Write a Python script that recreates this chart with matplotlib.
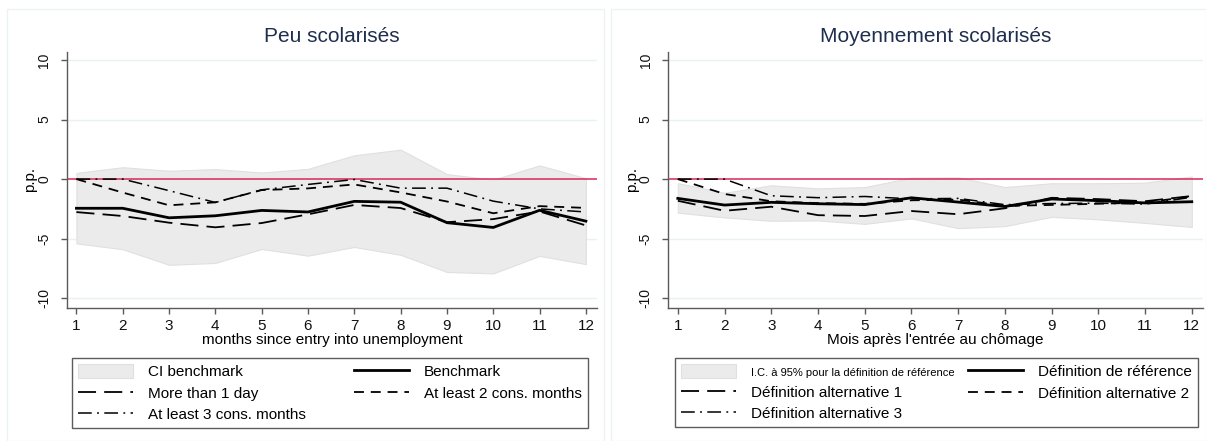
import matplotlib
matplotlib.use("Agg")
import matplotlib.pyplot as plt
from matplotlib.patches import Rectangle

plt.rcParams['font.family'] = ['Liberation Sans', 'DejaVu Sans']

months = list(range(1, 13))

# low education
peu_bench = [-2.45, -2.45, -3.25, -3.08, -2.63, -2.76, -1.87, -1.94, -3.66, -4.06, -2.62, -3.53]
peu_ci_hi = [0.52, 1.0, 0.7, 0.84, 0.55, 0.86, 2.0, 2.47, 0.42, -0.05, 1.15, 0.07]
peu_ci_lo = [-5.4, -5.89, -7.2, -7.04, -5.87, -6.43, -5.7, -6.36, -7.8, -7.92, -6.45, -7.14]
peu_more1 = [-2.77, -3.1, -3.66, -4.05, -3.69, -2.96, -2.17, -2.43, -3.62, -3.36, -2.72, -3.89]
peu_cons2 = [0.0, -1.13, -2.2, -1.95, -0.92, -0.78, -0.45, -1.12, -1.88, -2.87, -2.27, -2.42]
peu_cons3 = [0.0, 0.0, -0.97, -1.96, -0.9, -0.45, -0.03, -0.76, -0.76, -1.85, -2.5, -2.76]

# medium education
moy_bench = [-1.62, -2.18, -1.95, -2.07, -2.14, -1.57, -1.93, -2.3, -1.67, -1.81, -2.0, -1.9]
moy_ci_hi = [-0.34, -1.15, -0.52, -0.78, -0.67, 0.12, 0.15, -0.67, -0.35, -0.35, -0.3, 0.22]
moy_ci_lo = [-2.82, -3.22, -3.5, -3.47, -3.76, -3.3, -4.12, -3.95, -3.17, -3.38, -3.68, -4.02]
moy_alt1 = [-1.82, -2.66, -2.32, -3.03, -3.1, -2.68, -2.95, -2.45, -1.57, -1.68, -1.86, -1.42]
moy_alt2 = [0.0, -1.25, -1.86, -2.02, -2.08, -1.78, -1.72, -2.25, -2.17, -2.07, -1.97, -1.45]
moy_alt3 = [0.0, 0.0, -1.4, -1.56, -1.46, -1.66, -1.62, -2.15, -2.05, -2.02, -2.1, -1.52]

panels = [
    dict(title="Peu scolarisés", xlabel="months since entry into unemployment",
         bench=peu_bench, hi=peu_ci_hi, lo=peu_ci_lo, a1=peu_more1, a2=peu_cons2, a3=peu_cons3,
         labels=["CI benchmark", "Benchmark", "More than 1 day",
                 "At least 2 cons. months", "At least 3 cons. months"]),
    dict(title="Moyennement scolarisés", xlabel="Mois après l'entrée au chômage",
         bench=moy_bench, hi=moy_ci_hi, lo=moy_ci_lo, a1=moy_alt1, a2=moy_alt2, a3=moy_alt3,
         labels=["I.C. à 95% pour la définition de référence", "Définition de référence",
                 "Définition alternative 1", "Définition alternative 2",
                 "Définition alternative 3"]),
]

W, H = 1206, 441
fig = plt.figure(figsize=(W / 100, H / 100), dpi=100)

axes_px = [(66.7, 597), (668, 1203)]
legend_px = [(72, 588), (675, 1198)]
panel_px = [(7, 604), (611, 1206)]
top_px, bot_px = 51.7, 307.7

axis_col = "#5a5a5a"
grid_col = "#e9f1f2"

for p, (x0, x1), (lx0, lx1), (px0, px1) in zip(panels, axes_px, legend_px, panel_px):
    # light panel frame
    fig.patches.append(Rectangle((px0 / W, 0), (px1 - px0) / W, 1 - 9 / H,
                                 transform=fig.transFigure, fill=False,
                                 edgecolor="#edf3f3", lw=1.0, zorder=0))
    ax = fig.add_axes([x0 / W, 1 - bot_px / H, (x1 - x0) / W, (bot_px - top_px) / H])
    ax.set_xlim(0.79, 12.24)
    ax.set_ylim(-10.8, 10.7)
    ax.set_yticks([-10, -5, 0, 5, 10])
    ax.set_xticks(months)
    for y in [-10, -5, 5, 10]:
        ax.axhline(y, color=grid_col, lw=1.0, zorder=0)

    band = ax.fill_between(months, p["lo"], p["hi"], facecolor="#ebebeb",
                           edgecolor="#e0e0e0", lw=0.8, zorder=1)
    ax.axhline(0, color="#d42a55", lw=1.1, zorder=2)
    l_b, = ax.plot(months, p["bench"], color="black", lw=2.0, zorder=4)
    l_1, = ax.plot(months, p["a1"], color="black", lw=1.3, dashes=(10, 4.5), zorder=3)
    l_2, = ax.plot(months, p["a2"], color="black", lw=1.3, dashes=(5.5, 3.8), zorder=3)
    l_3, = ax.plot(months, p["a3"], color="black", lw=1.1, dashes=(9, 3.5, 1.2, 3.5), zorder=3)

    for s in ["top", "right"]:
        ax.spines[s].set_visible(False)
    for s in ["left", "bottom"]:
        ax.spines[s].set_color(axis_col)
        ax.spines[s].set_linewidth(1.0)
    ax.tick_params(axis="both", colors=axis_col, length=4, width=1.0, labelcolor="#111111")
    ax.tick_params(axis="x", labelsize=11, pad=4)
    ax.tick_params(axis="y", labelsize=10, pad=7)
    ax.set_yticklabels(["-10", "-5", "0", "5", "10"], rotation=90, va="center")

    ax.set_title(p["title"], fontsize=15, color="#1f2d4e", pad=7)
    ax.set_xlabel(p["xlabel"], fontsize=11, labelpad=0)
    ax.set_ylabel("p.p.", fontsize=11, labelpad=0)

    handles = [band, l_1, l_3, l_b, l_2]
    labs = p["labels"]
    labels = [labs[0], labs[2], labs[4], labs[1], labs[3]]
    leg = ax.legend(handles, labels, ncol=2, mode="expand", loc="upper left",
                    bbox_to_anchor=(lx0 / W, 1 - 427 / H, (lx1 - lx0) / W, (427 - 358) / H),
                    bbox_transform=fig.transFigure, fontsize=11, frameon=True,
                    fancybox=False, edgecolor="#333333", handlelength=3.6,
                    handleheight=1.0, handletextpad=1.0, labelspacing=0.42,
                    borderpad=0.4, borderaxespad=0)
    leg.get_frame().set_linewidth(1.0)
    if p["title"].startswith("Moy"):
        leg.get_texts()[0].set_fontsize(8)

fig.savefig("out.png", dpi=100)
